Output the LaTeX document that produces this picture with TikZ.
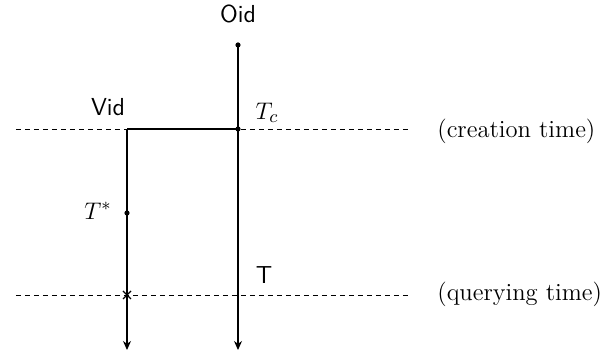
\documentclass[tikz,border=0pt]{standalone}
\usetikzlibrary{arrows.meta,calc}
\begin{document}
\begin{tikzpicture}[x=0.5pt,y=-0.5pt,
  font=\fontsize{12.3}{14}\selectfont,
  line/.style={line width=0.6pt},
  dashline/.style={line width=0.45pt, dash pattern=on 2.5pt off 2pt},
  arr/.style={line width=0.6pt,-{Stealth[length=4.5pt,width=4pt]}},
  dotmark/.style={circle,fill,inner sep=0pt,minimum size=2.6pt},
  sflabel/.style={font=\fontsize{12.3}{14}\selectfont\sffamily,inner sep=0pt},
  mlabel/.style={inner sep=0pt},
  rlabel/.style={inner sep=0pt,anchor=west}]
\useasboundingbox (0,0) rectangle (607,351);
% coordinates
\coordinate (cl) at (16,129);
\coordinate (cr) at (410,129);
\coordinate (ql) at (16,295);
\coordinate (qr) at (410,295);
\coordinate (oidtop) at (238,45);
\coordinate (tc) at (238,129);
\coordinate (vtop) at (127,129);
\coordinate (tstar) at (127,213);
\coordinate (xm) at (127,295);
\coordinate (oidend) at (238,350);
\coordinate (vend) at (127,350);
% dashed time lines
\draw[dashline] (cl) -- (cr);
\draw[dashline] (ql) -- (qr);
% object lines
\draw[arr] (oidtop) -- (oidend);
\draw[line] (tc) -- (vtop);
\draw[arr] (vtop) -- (vend);
% marks
\node[dotmark] (d1) at (oidtop) {};
\node[dotmark] (d2) at (tc) {};
\node[dotmark] (d3) at (tstar) {};
\draw[line] ($(xm)+(-4,-4)$) -- ($(xm)+(4,4)$);
\draw[line] ($(xm)+(-4,4)$) -- ($(xm)+(4,-4)$);
% labels
\node[sflabel] (oid) at (238,14) {Oid};
\node[sflabel] (vid) at (108,107) {Vid};
\node[mlabel] (tcl) at (267,113) {$T_c$};
\node[mlabel] (tsl) at (98,211) {$T^*$};
\node[sflabel] (tl) at (264,275) {T};
\node[rlabel] (ct) at (437,131) {(creation time)};
\node[rlabel] (qt) at (437,294) {(querying time)};
\end{tikzpicture}
\end{document}
